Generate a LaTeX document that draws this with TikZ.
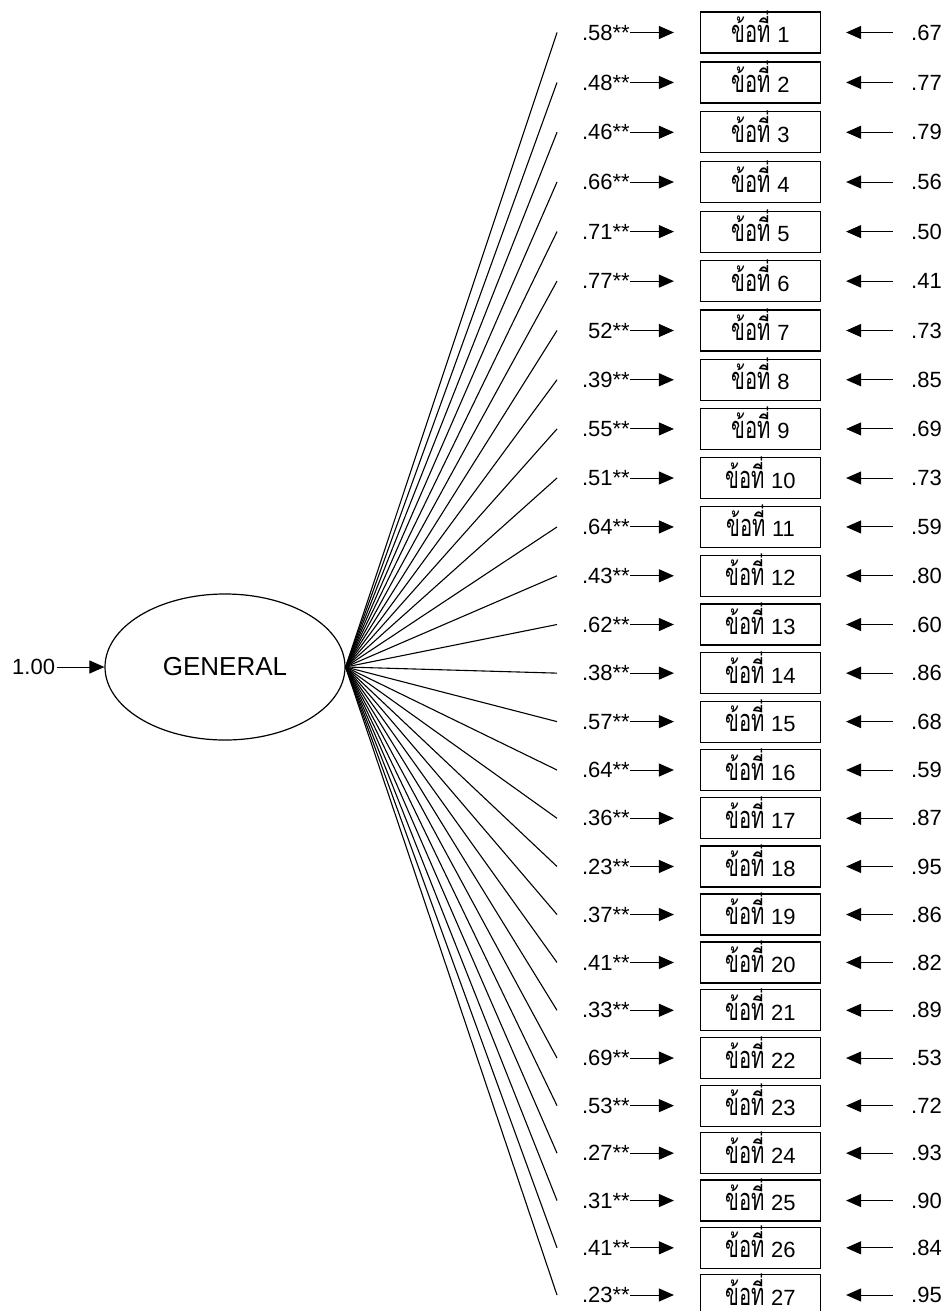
\documentclass[tikz,border=0pt]{standalone}
\usepackage{fontspec}
\setmainfont{Liberation Sans}
\newfontfamily\thaifont[Script=Thai]{Loma}
\usetikzlibrary{arrows.meta,shapes.geometric}
\newcommand{\itemword}{\scalebox{0.92}[1.4]{\thaifont ข้อที่}}
\begin{document}
\begin{tikzpicture}[x=1pt,y=-1pt,
 lbl/.style={font=\fontsize{22}{24}\selectfont, inner sep=0pt},
 item/.style={draw, line width=1.2pt, minimum width=120pt, minimum height=41pt, inner sep=0pt, text height=20pt, text depth=0pt, font=\fontsize{22}{24}\selectfont},
 latent/.style={draw, line width=1.2pt, ellipse, minimum width=240pt, minimum height=146pt, inner sep=0pt, font=\fontsize{26}{28}\selectfont},
 arr/.style={line width=1pt, -{Triangle[length=15pt,width=13pt]}},
 load/.style={line width=1.1pt}]
\useasboundingbox (0,0) rectangle (946,1311);
\node[latent] (g) at (225,667) {GENERAL};
\node[lbl, anchor=west] (one) at (12,667) {1.00};
\draw[arr, shorten <=2pt] (one) -- (g.west);
\foreach \i/\a/\b in {1/.58/.67, 2/.48/.77, 3/.46/.79, 4/.66/.56, 5/.71/.50, 6/.77/.41, 7/52/.73, 8/.39/.85, 9/.55/.69, 10/.51/.73, 11/.64/.59, 12/.43/.80, 13/.62/.60, 14/.38/.86, 15/.57/.68, 16/.64/.59, 17/.36/.87, 18/.23/.95, 19/.37/.86, 20/.41/.82, 21/.33/.89, 22/.69/.53, 23/.53/.72, 24/.27/.93, 25/.31/.90, 26/.41/.84, 27/.23/.95} {
 \pgfmathsetmacro\yy{32.5+50*(\i-1)-0.0555*(\i-1)*(\i-1)}
 \node[item] (b\i) at (760.5,\yy) {\itemword\hspace{6.5pt}\i};
 \node[lbl, anchor=east] (l\i) at (630,\yy) {\a**};
 \node[lbl, anchor=west] (r\i) at (911,\yy) {\b};
 \coordinate (e\i) at (557,\yy);
 \draw[load] (g.east) -- (e\i);
 \draw[arr, shorten >=26pt] (l\i) -- (b\i);
 \draw[arr, shorten <=18pt, shorten >=25pt] (r\i) -- (b\i);
}
\end{tikzpicture}
\end{document}
